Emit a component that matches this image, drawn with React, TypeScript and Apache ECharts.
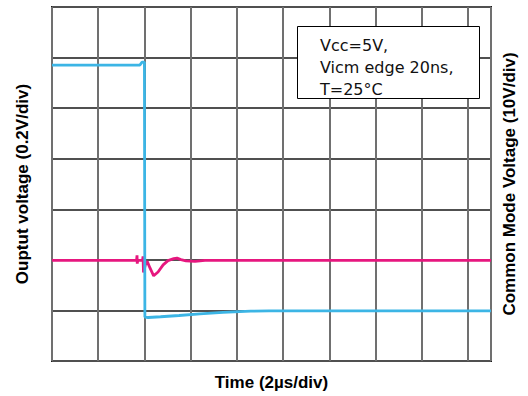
import React, { useEffect, useRef } from "react";
import * as echarts from "echarts";

// time axis (µs), 2 µs/div, 9.5 divisions visible
const timeMin = 0;
const timeMax = 19;
const timeStep = 2;

// output voltage (V), 0.2 V/div, 7 divisions
const outMin = 0;
const outMax = 1.4;
const outStep = 0.2;

// common mode voltage (V), 10 V/div
const cmMin = 0;
const cmMax = 70;
const cmStep = 10;

// output voltage trace [t µs, V]
const outputTrace: [number, number][] = [
  [0, 0.398], [3.66, 0.398], [3.68, 0.418], [3.69, 0.385], [3.71, 0.398],
  [3.92, 0.398], [3.94, 0.414], [3.96, 0.35], [4.06, 0.388], [4.12, 0.394],
  [4.24, 0.368], [4.4, 0.337], [4.59, 0.352], [4.81, 0.38], [5.02, 0.397],
  [5.27, 0.405], [5.41, 0.407], [5.58, 0.401], [5.8, 0.396], [6.19, 0.394],
  [6.62, 0.398], [19, 0.398],
];

// common mode voltage trace [t µs, V]
const commonModeTrace: [number, number][] = [
  [0, 58.5], [3.8, 58.5], [3.9, 59.1], [4.0, 59.1], [4.02, 8.7],
  [4.16, 8.6], [4.7, 8.75], [5.5, 9.0], [6.4, 9.3], [7.4, 9.6],
  [8.6, 9.85], [9.4, 9.9], [19, 9.9],
];

const noteLines = ["Vcc=5V,", "Vicm edge 20ns,", "T=25°C"];

const axisNameStyle = {
  fontFamily: "Liberation Sans, Arial, sans-serif",
  fontWeight: "bold" as const,
  fontSize: 17,
  color: "#000",
};

export default function App() {
  const ref = useRef<HTMLDivElement>(null);
  useEffect(() => {
    if (!ref.current) return;
    const chart = echarts.init(ref.current, undefined, { renderer: "svg" });
    chart.setOption({
      animation: false,
      backgroundColor: "#fff",
      grid: {
        left: 52,
        right: 37,
        top: 7,
        bottom: 35,
        show: true,
        borderColor: "#1a1a1a",
        borderWidth: 2,
        backgroundColor: "transparent",
      },
      xAxis: {
        type: "value",
        min: timeMin,
        max: timeMax,
        interval: timeStep,
        name: "Time (2µs/div)",
        nameLocation: "middle",
        nameGap: 13,
        nameTextStyle: axisNameStyle,
        axisLabel: { show: false },
        axisTick: { show: false },
        axisLine: { show: false },
        splitLine: { show: true, lineStyle: { color: "#707070", width: 2 } },
      },
      yAxis: [
        {
          type: "value",
          min: outMin,
          max: outMax,
          interval: outStep,
          name: "Ouptut voltage (0.2V/div)",
          nameLocation: "middle",
          nameRotate: 90,
          nameGap: 21,
          nameTextStyle: axisNameStyle,
          axisLabel: { show: false },
          axisTick: { show: false },
          axisLine: { show: false },
          splitLine: { show: true, lineStyle: { color: "#505050", width: 2 } },
        },
        {
          type: "value",
          position: "right",
          min: cmMin,
          max: cmMax,
          interval: cmStep,
          name: "Common Mode Voltage (10V/div)",
          nameLocation: "middle",
          nameRotate: 90,
          nameGap: 10,
          nameTextStyle: axisNameStyle,
          axisLabel: { show: false },
          axisTick: { show: false },
          axisLine: { show: false },
          splitLine: { show: false },
        },
      ],
      series: [
        {
          type: "line",
          yAxisIndex: 0,
          data: outputTrace,
          showSymbol: false,
          lineStyle: { color: "#e6177f", width: 2.8 },
          z: 3,
        },
        {
          type: "line",
          yAxisIndex: 1,
          data: commonModeTrace,
          showSymbol: false,
          lineStyle: { color: "#3cb5e5", width: 2.8 },
          z: 4,
        },
      ],
      graphic: [
        {
          type: "rect",
          z: 100,
          shape: { x: 297.5, y: 26.5, width: 182, height: 72 },
          style: { fill: "#ffffff", stroke: "#000", lineWidth: 1 },
        },
        ...noteLines.map((t, i) => ({
          type: "text",
          z: 101,
          x: 320,
          y: 45 + i * 22,
          style: {
            text: t,
            fontFamily: "DejaVu Sans, sans-serif",
            fontSize: 16,
            fill: "#111",
            verticalAlign: "middle",
          },
        })),
      ],
    });
    return () => chart.dispose();
  }, []);
  return (
    <div
      ref={ref}
      style={{ position: "fixed", left: 0, top: 0, width: 528, height: 396 }}
    />
  );
}
